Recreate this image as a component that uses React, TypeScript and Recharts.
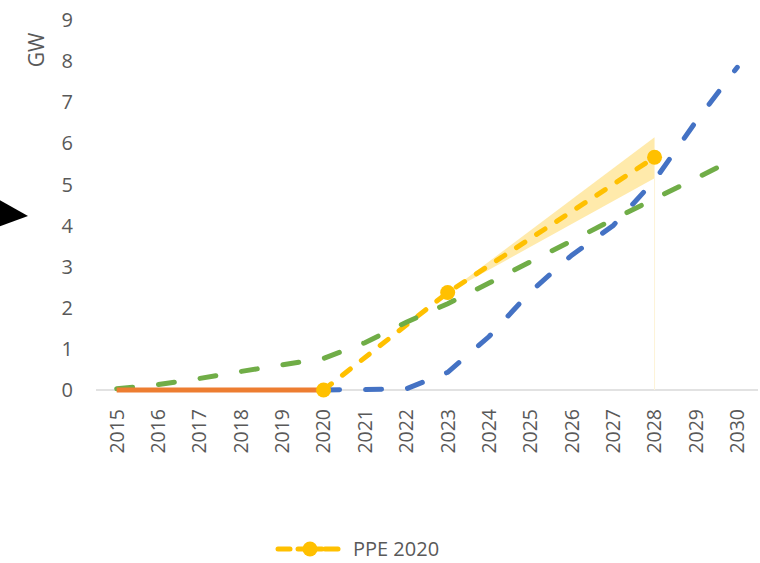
import React from 'react';
import { ComposedChart, Line, Area, XAxis, YAxis, ReferenceLine } from 'recharts';

// values (GW)
const years = ['2015', '2016', '2017', '2018', '2019', '2020', '2021', '2022', '2023', '2024', '2025', '2026', '2027', '2028', '2029', '2030'];
const historic = [0, 0, 0, 0, 0, 0, null, null, null, null, null, null, null, null, null, null];
const greenScenario = [0.03, 0.13, 0.28, 0.45, 0.61, 0.77, 1.15, 1.65, 2.1, 2.6, 3.12, 3.63, 4.15, 4.65, 5.15, 5.65];
const blueScenario = [null, null, null, null, null, 0, 0.01, 0.03, 0.43, 1.3, 2.39, 3.28, 4.0, 5.1, 6.53, 7.85];
const ppe2020 = [null, null, null, null, null, 0, null, null, 2.37, null, null, null, null, 5.66, null, null];
const ppeLow = [null, null, null, null, null, null, null, null, 2.37, null, null, null, null, 5.15, null, null];
const ppeHigh = [null, null, null, null, null, null, null, null, 2.37, null, null, null, null, 6.15, null, null];
const yTicks = [0, 1, 2, 3, 4, 5, 6, 7, 8, 9];

const data = years.map((year, i) => ({
  year,
  historic: historic[i],
  green: greenScenario[i],
  blue: blueScenario[i],
  ppe: ppe2020[i],
  band: ppeLow[i] != null && ppeHigh[i] != null ? [ppeLow[i], ppeHigh[i]] : null,
}));

const FONT = '"Open Sans", "Noto Sans", sans-serif';
const GREY = '#595959';

const YearTick = ({ x, y, payload }: any) => (
  <g transform={`translate(${x},${y})`}>
    <text transform="rotate(-90)" x={-17} y={0} dy="0.35em" textAnchor="end"
      fill={GREY} fontSize={19.5} fontFamily={FONT}>
      {payload.value}
    </text>
  </g>
);

const lastBand = years.length - 3;

export default function App() {
  return (
    <div style={{ position: 'absolute', left: 0, top: 0, width: 760, height: 563, background: '#fff' }}>
      <ComposedChart width={760} height={563} data={data}
        margin={{ top: 20, right: 2, left: 0, bottom: 0 }}>
        <XAxis dataKey="year" height={173} tick={<YearTick />} tickLine={false} tickSize={0}
          interval={0} padding={{ left: 20.7, right: 20.7 }} axisLine={false} />
        <YAxis width={96} domain={[0, 9]} ticks={yTicks} axisLine={false} tickLine={false}
          tickSize={0} tickMargin={23} interval={0}
          tick={{ fill: GREY, fontSize: 20, fontFamily: FONT }} />
        <ReferenceLine y={0} stroke="#d9d9d9" strokeWidth={1.5} />
        <Area dataKey="band" type="linear" stroke="none" fill="#FFC000" fillOpacity={0.33}
          connectNulls isAnimationActive={false} />
        <ReferenceLine segment={[{ x: years[lastBand], y: 0 }, { x: years[lastBand], y: ppeLow[lastBand] }]}
          stroke="#fdf3d8" strokeWidth={1} />
        <Line dataKey="ppe" type="linear" stroke="#FFC000" strokeWidth={5} strokeDasharray="10 14"
          strokeLinecap="round" connectNulls isAnimationActive={false}
          dot={{ r: 7.5, fill: '#FFC000', stroke: 'none', strokeDasharray: '' }} />
        <Line dataKey="blue" type="linear" stroke="#4472C4" strokeWidth={5} strokeDasharray="16 26"
          strokeLinecap="round" dot={false} isAnimationActive={false} />
        <Line dataKey="green" type="linear" stroke="#70AD47" strokeWidth={5} strokeDasharray="16 26"
          strokeLinecap="round" dot={false} isAnimationActive={false} />
        <Line dataKey="historic" type="linear" stroke="#ED7D31" strokeWidth={5}
          dot={false} isAnimationActive={false} />
      </ComposedChart>
      <svg width={760} height={563} style={{ position: 'absolute', left: 0, top: 0, pointerEvents: 'none' }}>
        <polygon points="-2,199 28,216 -2,227" fill="#000" />
        <text transform="translate(44,50) rotate(-90)" textAnchor="middle" fill={GREY}
          fontSize={21} fontFamily={FONT}>GW</text>
        <g>
          <line x1={278} y1={549} x2={290} y2={549} stroke="#FFC000" strokeWidth={5} strokeLinecap="round" />
          <line x1={298} y1={549} x2={322} y2={549} stroke="#FFC000" strokeWidth={5} strokeLinecap="round" />
          <line x1={325} y1={549} x2={338} y2={549} stroke="#FFC000" strokeWidth={5} strokeLinecap="round" />
          <circle cx={310} cy={549} r={7.5} fill="#FFC000" />
          <text x={353} y={549} dy="0.35em" fill={GREY} fontSize={20} fontFamily={FONT}>PPE 2020</text>
        </g>
      </svg>
    </div>
  );
}
